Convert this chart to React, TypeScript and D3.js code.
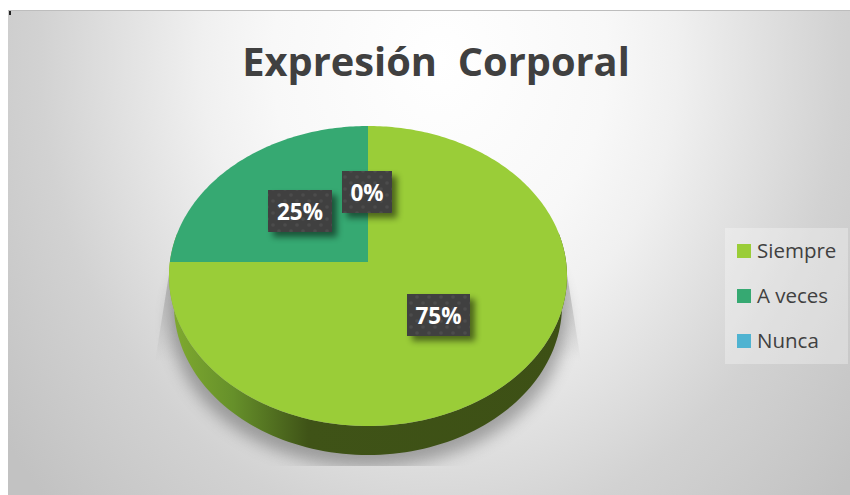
import React from "react";
import * as d3 from "d3";

const categories = ["Siempre", "A veces", "Nunca"];
const values = [75, 25, 0];
const colors = ["#9ACD38", "#36A972", "#4FB3D1"];
const titleText = "Expresión  Corporal";

// layout
const W = 850, H = 495;
const apexX = 368, apexY = 262, topY = 126, bottomY = 426, rightX = 567;
const radiusX = rightX - apexX;
const p = ((apexY - topY) - (bottomY - apexY)) / ((apexY - topY) + (bottomY - apexY));
const k = (bottomY - apexY) * (1 + p);
const depth = 29;

// perspective projection of the pie disc
const project = (a: number, r = 1): [number, number] => {
  const u = Math.sin(a) * r, v = -Math.cos(a) * r;
  const w = 1 + p * v;
  const sx = d3.scaleLinear().domain([-1, 1]).range([apexX - radiusX, apexX + radiusX]);
  return [sx(u / w * Math.sqrt(1 - p * p)), apexY + (k * v) / w];
};

const pieGen = d3.pie<number>().sort(null).value((d) => d);
const slices = pieGen(values);
const line = d3.line();

const slicePath = (s0: number, s1: number) => {
  const n = Math.max(2, Math.ceil((s1 - s0) * 60));
  const arcPts = d3.range(n + 1).map((i) => project(s0 + ((s1 - s0) * i) / n));
  return line([[apexX, apexY], ...arcPts]) + "Z";
};

// side wall, lower half of the disc pushed down and slightly narrowed
const sidePath = () => {
  const a0 = Math.PI * 0.5 - 0.2, a1 = Math.PI * 1.5 + 0.2;
  const angles = d3.range(0, 121).map((i) => a0 + ((a1 - a0) * i) / 120);
  const upper = angles.map((a) => project(a));
  const lower = angles.slice().reverse().map((a) => {
    const [x, y] = project(a);
    return [apexX + (x - apexX) * 0.975, y + depth] as [number, number];
  });
  return line([...upper, ...lower]) + "Z";
};

const labelFmt = (v: number) => `${v}%`;
const labelBoxes = [
  { x: 407, y: 294, w: 63, h: 42 },
  { x: 268, y: 190, w: 64, h: 42 },
  { x: 342, y: 171, w: 50, h: 42 },
];

const legendY = d3.scalePoint<string>().domain(categories).range([251, 341]);
const font = "'Open Sans', sans-serif";

export default function App() {
  return (
    <svg
      width={W}
      height={H}
      viewBox={`0 0 ${W} ${H}`}
      style={{ position: "absolute", left: 0, top: 0, background: "#fff" }}
    >
      <defs>
        <radialGradient
          id="bg"
          gradientUnits="userSpaceOnUse"
          cx={0}
          cy={0}
          r={540}
          gradientTransform="translate(440,60) scale(1,1.19)"
        >
          <stop offset="0" stopColor="#ffffff" />
          <stop offset="0.31" stopColor="#f8f8f8" />
          <stop offset="0.44" stopColor="#f0f0f0" />
          <stop offset="0.63" stopColor="#dddddd" />
          <stop offset="0.74" stopColor="#d2d2d2" />
          <stop offset="1" stopColor="#c2c2c2" />
        </radialGradient>
        <linearGradient id="side" gradientUnits="userSpaceOnUse" x1={170} x2={565} y1={0} y2={0}>
          <stop offset="0" stopColor="#80AB30" />
          <stop offset="0.16" stopColor="#66902A" />
          <stop offset="0.35" stopColor="#3F5317" />
          <stop offset="1" stopColor="#3D5015" />
        </linearGradient>
        <linearGradient id="wallShadow" x1={0} x2={0} y1={0} y2={1}>
          <stop offset="0" stopColor="#8a8a8a" stopOpacity={0.6} />
          <stop offset="1" stopColor="#9a9a9a" stopOpacity={0} />
        </linearGradient>
        <filter id="blur" x="-20%" y="-20%" width="140%" height="140%">
          <feGaussianBlur stdDeviation={8} />
        </filter>
        <filter id="boxShadow" x="-30%" y="-30%" width="170%" height="170%">
          <feGaussianBlur stdDeviation={3} />
        </filter>
        <clipPath id="shadowClip">
          <rect x={150} y={260} width={440} height={206} />
        </clipPath>
        <pattern id="dots" patternUnits="userSpaceOnUse" width={12} height={12}>
          <rect width={12} height={12} fill="#404040" />
          <circle cx={3} cy={3} r={1.8} fill="#4C4C4C" />
          <circle cx={9} cy={9} r={1.8} fill="#4C4C4C" />
        </pattern>
      </defs>

      {/* chart area */}
      <rect x={8} y={10} width={842} height={485} fill="url(#bg)" />
      <rect x={8} y={10} width={842} height={1} fill="#bdbdbd" />
      <rect x={9} y={11} width={2} height={4} fill="#222" />

      {/* title */}
      <text
        x={436}
        y={75.5}
        textAnchor="middle"
        xmlSpace="preserve"
        style={{ whiteSpace: "pre" }}
        fontFamily={font}
        fontWeight={700}
        fontSize={39.8}
        fill="#404040"
      >
        {titleText}
      </text>

      {/* floor shadow */}
      <g clipPath="url(#shadowClip)">
        <path d="M170,268 L566,268 L581,362 L155,362 Z" fill="url(#wallShadow)" />
        <ellipse cx={368} cy={321} rx={197} ry={146} fill="#555" opacity={0.48} filter="url(#blur)" />
      </g>

      {/* pie */}
      <path d={sidePath()} fill="url(#side)" />
      {slices.map((s, i) =>
        s.endAngle > s.startAngle ? (
          <path key={categories[i]} d={slicePath(s.startAngle, s.endAngle)} fill={colors[i]} />
        ) : null
      )}

      {/* data labels */}
      {slices.map((s, i) => {
        const b = labelBoxes[i];
        return (
          <g key={categories[i]}>
            <rect x={b.x + 5} y={b.y + 5} width={b.w} height={b.h} fill="#000" opacity={0.5} filter="url(#boxShadow)" />
            <rect x={b.x} y={b.y} width={b.w} height={b.h} fill="url(#dots)" />
            <text
              x={b.x + b.w / 2}
              y={b.y + b.h / 2 + 8.5}
              textAnchor="middle"
              fontFamily={font}
              fontWeight={700}
              fontSize={22.5}
              fill="#fff"
            >
              {labelFmt(s.data)}
            </text>
          </g>
        );
      })}

      {/* legend */}
      <rect x={725} y={228} width={123} height={136} fill="#fff" opacity={0.3} />
      {categories.map((c, i) => (
        <g key={c}>
          <rect x={737} y={legendY(c)! - 7} width={14} height={14} fill={colors[i]} />
          <text x={757} y={legendY(c)! + 7} fontFamily={font} fontSize={20.5} fill="#404040">
            {c}
          </text>
        </g>
      ))}
    </svg>
  );
}
